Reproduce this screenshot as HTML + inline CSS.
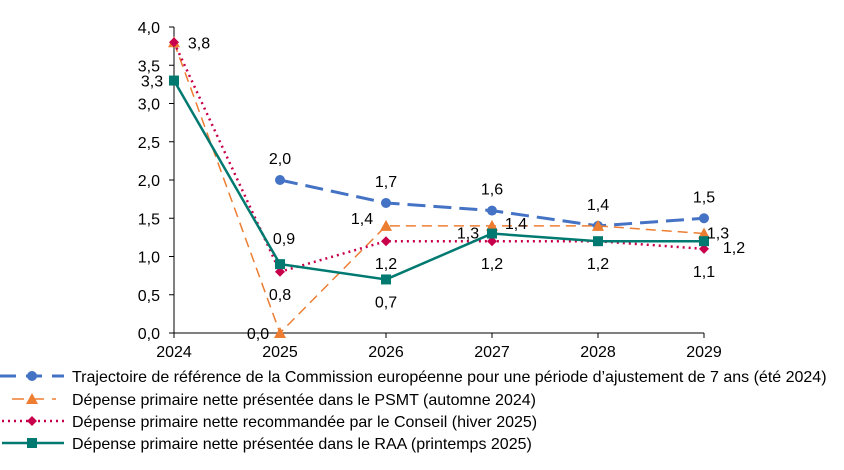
<!DOCTYPE html>
<html><head><meta charset="utf-8"><style>
body{margin:0;background:#fff;}
svg text{font-family:"Liberation Sans",Arial,sans-serif;font-size:16px;fill:#000;}
</style></head><body>
<svg id="c" width="844" height="465" xmlns="http://www.w3.org/2000/svg"></svg>
<script>
const years=["2024","2025","2026","2027","2028","2029"];
const yTicks=[0,0.5,1,1.5,2,2.5,3,3.5,4];
const commission=[null,2.0,1.7,1.6,1.4,1.5];
const psmt=[3.8,0.0,1.4,1.4,1.4,1.3];
const conseil=[3.8,0.8,1.2,1.2,1.2,1.1];
const raa=[3.3,0.9,0.7,1.3,1.2,1.2];
const legendLabels=["Trajectoire de référence de la Commission européenne pour une période d’ajustement de 7 ans (été 2024)","Dépense primaire nette présentée dans le PSMT (automne 2024)","Dépense primaire nette recommandée par le Conseil (hiver 2025)","Dépense primaire nette présentée dans le RAA (printemps 2025)"];
const NS="http://www.w3.org/2000/svg";
const svg=document.getElementById('c');
const X0=174,X1=704,Y0=333,Y1=27;
const x=i=>X0+(X1-X0)*i/(years.length-1);
const y=v=>Y0-(Y0-Y1)*v/4;
function mk(t,a,p){const e=document.createElementNS(NS,t);for(const k in a)e.setAttribute(k,a[k]);(p||svg).appendChild(e);return e;}
function fmt(v){return v.toFixed(1).replace('.',',');}
let ax=mk('line',{x1:X0,y1:Y1,x2:X0,y2:Y0,stroke:'#000','stroke-width':1});

let bx=mk('line',{x1:X0,y1:Y0,x2:X1,y2:Y0,stroke:'#000','stroke-width':1});

yTicks.forEach(v=>{
 mk('line',{x1:X0-5,y1:y(v),x2:X0,y2:y(v),stroke:'#000'});
 const t=mk('text',{x:X0-14,y:y(v)+6,'text-anchor':'end'});t.textContent=fmt(v);
 
});
years.forEach((yr,i)=>{
 mk('line',{x1:x(i),y1:Y0,x2:x(i),y2:Y0+5,stroke:'#000'});
 const t=mk('text',{x:x(i),y:Y0+24,'text-anchor':'middle'});t.textContent=yr;
 
});
const series=[
 {d:commission,c:'#4472C4',w:3,dash:'18,8',m:'circle',name:'commission'},
 {d:psmt,c:'#ED7D31',w:1.5,dash:'10,6',m:'tri',name:'psmt'},
 {d:conseil,c:'#C8004B',w:2.5,dash:'2,4',m:'diamond',name:'conseil'},
 {d:raa,c:'#007A70',w:2.5,dash:'',m:'square',name:'raa'}
];
function marker(type,cx,cy,c,g){
 if(type==='circle')return mk('circle',{cx:cx,cy:cy,r:5,fill:c},g);
 if(type==='tri')return mk('polygon',{points:`${cx},${cy-6} ${cx+6},${cy+5} ${cx-6},${cy+5}`,fill:c},g);
 if(type==='diamond')return mk('polygon',{points:`${cx},${cy-5} ${cx+5},${cy} ${cx},${cy+5} ${cx-5},${cy}`,fill:c},g);
 return mk('rect',{x:cx-5,y:cy-5,width:10,height:10,fill:c},g);
}
series.forEach(s=>{
 const g=mk('g',{});
 const pts=[];s.d.forEach((v,i)=>{if(v!==null)pts.push(x(i)+','+y(v));});
 const a={points:pts.join(' '),fill:'none',stroke:s.c,'stroke-width':s.w};if(s.dash)a['stroke-dasharray']=s.dash;
 mk('polyline',a,g);
 s.d.forEach((v,i)=>{if(v===null)return;const m=marker(s.m,x(i),y(v),s.c,g);
  });
});
const labels=[
 [commission,1,0,-16],[commission,2,0,-16],[commission,3,0,-16],[commission,4,0,-16],[commission,5,0,-16],
 [psmt,1,-22,6],[psmt,2,-24,-2],[psmt,3,24,3],[psmt,5,14,5],
 [conseil,0,25,6],[conseil,1,0,28],[conseil,2,0,28],[conseil,3,0,28],[conseil,4,0,28],[conseil,5,0,28],
 [raa,0,-22,6],[raa,1,4,-20],[raa,2,0,28],[raa,3,-24,5],[raa,5,30,12]
];
labels.forEach(([arr,i,dx,dy])=>{
 const t=mk('text',{x:x(i)+dx,y:y(arr[i])+dy,'text-anchor':'middle'});t.textContent=fmt(arr[i]);
 
});
const ly=[376,399,421,443];
series.forEach((s,k)=>{
 const g=mk('g',{});
 const a={x1:2,y1:ly[k],x2:64,y2:ly[k],stroke:s.c,'stroke-width':s.w};if(s.dash)a['stroke-dasharray']=s.dash==='18,8'?'16,10':s.dash==='10,6'?'12,8':s.dash;
 if(k===0){a.x1=0;}
 if(k===1){a.x1=12;a.x2=56;}
 mk('line',a,g);
 marker(s.m,32,ly[k],s.c,g);
 const t=mk('text',{x:72,y:ly[k]+6},g);t.textContent=legendLabels[k];
});
</script>
</body></html>
